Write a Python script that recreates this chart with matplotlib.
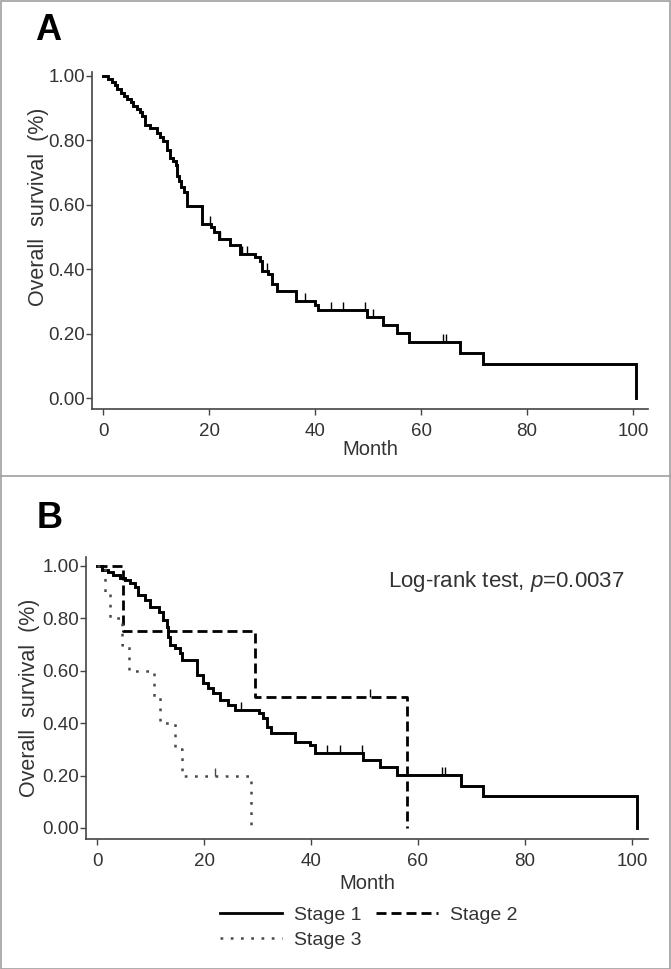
import numpy as np
import matplotlib
matplotlib.use('Agg')
import matplotlib.pyplot as plt
from matplotlib.path import Path
from matplotlib.lines import Line2D
from matplotlib.patches import Rectangle

plt.rcParams['font.family'] = ['Liberation Sans', 'DejaVu Sans']
plt.rcParams['mathtext.fontset'] = 'custom'
plt.rcParams['mathtext.rm'] = 'Liberation Sans'
plt.rcParams['mathtext.it'] = 'Liberation Sans:italic'

W, H = 671, 969

# ---------------- data ----------------
# Panel A: overall survival, all patients
a_time = [0, 1.0, 1.6, 2.2, 2.6, 3.3, 4.0, 4.6, 5.2, 5.7, 6.4, 7.0, 7.4, 7.9, 8.8,
          10.1, 10.8, 11.4, 12.0, 12.6, 13.2, 13.7, 13.9, 14.3, 14.8, 15.3, 15.8,
          18.6, 20.4, 20.9, 21.8, 24.0, 25.8, 28.7, 29.6, 30.0, 31.2, 31.8, 32.8,
          36.5, 40.0, 40.6, 49.8, 52.9, 55.5, 57.7, 67.4, 71.7, 100.6]
a_surv = [1.0, 0.99, 0.98, 0.97, 0.957, 0.947, 0.937, 0.927, 0.917, 0.907, 0.897,
          0.887, 0.876, 0.848, 0.836, 0.822, 0.809, 0.796, 0.77, 0.745, 0.735, 0.724,
          0.69, 0.673, 0.653, 0.64, 0.596, 0.539, 0.53, 0.514, 0.494, 0.474, 0.447,
          0.436, 0.426, 0.395, 0.385, 0.354, 0.333, 0.302, 0.287, 0.272, 0.252, 0.225,
          0.203, 0.175, 0.141, 0.107, 0.0]
a_cens = [20.2, 22.1, 26.2, 27.1, 30.9, 38.1, 43.1, 45.3, 49.4, 51.0, 64.2, 64.8]

# Panel B: by stage
s1_time = [0, 1.0, 2.0, 3.0, 4.3, 5.2, 6.2, 7.1, 7.7, 9.0, 9.9, 11.5, 12.4, 13.0,
           13.3, 13.6, 14.6, 15.5, 15.8, 18.6, 19.9, 20.8, 21.7, 23.0, 24.5, 25.8,
           30.2, 31.1, 31.7, 32.6, 37.0, 39.8, 40.7, 49.8, 52.9, 56.0, 68.1, 72.1, 101.0]
s1_surv = [1.0, 0.985, 0.975, 0.966, 0.954, 0.945, 0.935, 0.92, 0.889, 0.87, 0.844,
           0.824, 0.794, 0.767, 0.729, 0.698, 0.687, 0.668, 0.641, 0.584, 0.553, 0.534,
           0.515, 0.489, 0.469, 0.45, 0.439, 0.42, 0.385, 0.363, 0.328, 0.317, 0.286,
           0.26, 0.234, 0.202, 0.16, 0.122, 0.0]
s1_cens = [27.0, 42.9, 45.4, 49.5, 64.4, 65.0]

s2_time = [0, 4.8, 29.5, 57.9]
s2_surv = [1.0, 0.75, 0.5, 0.0]
s2_cens = [51.0]

s3_time = [0, 1.5, 2.4, 4.6, 5.9, 10.6, 11.8, 14.6, 15.8, 28.8]
s3_surv = [1.0, 0.9, 0.8, 0.7, 0.6, 0.5, 0.4, 0.3, 0.2, 0.0]
s3_cens = [22.1]

x_ticks = [0, 20, 40, 60, 80, 100]
y_ticks = [0.0, 0.2, 0.4, 0.6, 0.8, 1.0]
y_tick_labels = ['0.00', '0.20', '0.40', '0.60', '0.80', '1.00']
x_label = 'Month'
y_label = 'Overall  survival  (%)'
stage_labels = ['Stage 1', 'Stage 2', 'Stage 3']
logrank_text = r'Log-rank test, $p$=0.0037'

# ---------------- helpers ----------------
def fx(px):
    return px / W

def fy(py):
    return 1 - py / H

def surv_at(times, surv, cens):
    t = np.asarray(times)
    s = np.asarray(surv)
    idx = np.searchsorted(t, np.asarray(cens), side='right') - 1
    return s[idx]

tick_marker = Path([(0, 0), (0, 1)], [Path.MOVETO, Path.LINETO])
TXT = '#333333'
DASH = (0, (3.6, 1.8))
DOT = (0, (1.1, 3.0))
GRAY = '#4a4a4a'

fig = plt.figure(figsize=(W / 100, H / 100), dpi=100)


def style_axes(ax, xlim, ylim):
    ax.set_xlim(*xlim)
    ax.set_ylim(*ylim)
    for s in ['top', 'right']:
        ax.spines[s].set_visible(False)
    for s in ['left', 'bottom']:
        ax.spines[s].set_color('#444444')
        ax.spines[s].set_linewidth(1.2)
    ax.set_xticks(x_ticks)
    ax.set_xticklabels([str(v) for v in x_ticks])
    ax.set_yticks(y_ticks)
    ax.set_yticklabels(y_tick_labels)
    ax.tick_params(axis='both', direction='out', length=4.3, width=1.0,
                   color='#444444', labelsize=13.5, labelcolor=TXT)
    ax.tick_params(axis='x', pad=6)
    ax.tick_params(axis='y', pad=0.8)
    ax.set_xlabel(x_label, fontsize=14.5, color=TXT, labelpad=0)
    ax.set_ylabel(y_label, fontsize=15.5, color=TXT)


# ---------------- Panel A ----------------
axA = fig.add_axes([fx(92), fy(409), fx(648) - fx(92), fy(71.7) - fy(409)])
style_axes(axA, (-2.08, 102.83), (-0.034, 1.012))
axA.step(a_time, a_surv, where='post', color='black', lw=2.1, solid_joinstyle='miter')
axA.plot(a_cens, surv_at(a_time, a_surv, a_cens), ls='none', marker=tick_marker,
         markersize=11, mew=1.0, color='black')
axA.xaxis.set_label_coords(0.5, -0.092)
axA.yaxis.set_label_coords(-0.078, 0.6)

# ---------------- Panel B ----------------
axB = fig.add_axes([fx(86), fy(839), fx(648) - fx(86), fy(557) - fy(839)])
style_axes(axB, (-2.06, 103.0), (-0.042, 1.034))
axB.step(s1_time, s1_surv, where='post', color='black', lw=2.1, solid_joinstyle='miter')
axB.step(s2_time, s2_surv, where='post', color='black', lw=2.0, linestyle=DASH)
axB.step(s3_time, s3_surv, where='post', color=GRAY, lw=1.8, linestyle=DOT)
axB.plot(s1_cens, surv_at(s1_time, s1_surv, s1_cens), ls='none', marker=tick_marker,
         markersize=11, mew=1.0, color='black')
axB.plot(s2_cens, surv_at(s2_time, s2_surv, s2_cens), ls='none', marker=tick_marker,
         markersize=11, mew=1.0, color='black')
axB.plot(s3_cens, surv_at(s3_time, s3_surv, s3_cens), ls='none', marker=tick_marker,
         markersize=11, mew=1.0, color=GRAY)
axB.xaxis.set_label_coords(0.5, -0.125)
axB.yaxis.set_label_coords(-0.082, 0.5)

fig.text(fx(625), fy(582), logrank_text, fontsize=16, color=TXT, ha='right', va='center')

h1 = Line2D([], [], color='black', lw=2.0)
h2 = Line2D([], [], color='black', lw=2.0, linestyle=DASH)
h3 = Line2D([], [], color=GRAY, lw=1.8, linestyle=DOT)
fig.legend([h1, h3, h2], [stage_labels[0], stage_labels[2], stage_labels[1]],
           ncol=2, loc='upper left', bbox_to_anchor=(fx(220), fy(906)),
           frameon=False, fontsize=14, handlelength=3.2, handletextpad=0.6,
           columnspacing=0.75, labelspacing=0.38, borderpad=0, borderaxespad=0,
           labelcolor=TXT)

# panel letters
fig.text(fx(48), fy(31), 'A', fontsize=26, fontweight='bold', ha='center', va='center')
fig.text(fx(50), fy(519), 'B', fontsize=26, fontweight='bold', ha='center', va='center')

# panel borders
bc = '#a0a0a0'
fig.add_artist(Rectangle((0.5 / W, 0.5 / H), 1 - 1.5 / W, 1 - 1.5 / H, transform=fig.transFigure,
                         fill=False, edgecolor=bc, lw=1.2))
fig.add_artist(Line2D([0, 1], [fy(476), fy(476)], transform=fig.transFigure, color=bc, lw=1.2))

fig.savefig('out.png', dpi=100)
